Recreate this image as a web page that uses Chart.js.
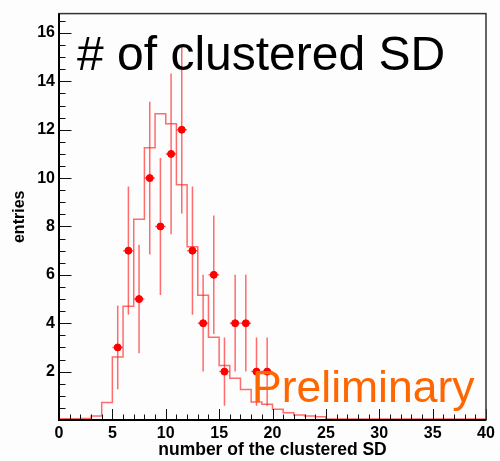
<!DOCTYPE html>
<html>
<head>
<meta charset="utf-8">
<script src="https://cdn.jsdelivr.net/npm/chart.js@4.4.0/dist/chart.umd.min.js"></script>
<style>
  body { margin: 0; background: #fdfdfd; }
  canvas { display: block; }
</style>
</head>
<body>
<canvas id="grafica" width="500" height="461"></canvas>
<script>
// histograma (simulacion), un valor por bin de ancho 1, desde 0 hasta 40
const histValues = [0.05, 0.05, 0.06, 0.17, 0.72, 2.6, 4.7, 8.3, 11.25, 12.66,
                    12.25, 9.72, 7.16, 5.16, 3.42, 2.25, 1.73, 1.26, 0.74, 0.65,
                    0.44, 0.3, 0.21, 0.17, 0.13, 0.04, 0.04, 0.04, 0.04, 0.04,
                    0.04, 0.04, 0.04, 0.04, 0.04, 0.04, 0.04, 0.04, 0.04, 0.04];
// datos con barras de error
const dataX = [5.5, 6.5, 7.5, 8.5, 9.5, 10.5, 11.5, 12.5, 13.5, 14.5, 15.5, 16.5, 17.5, 18.5, 19.5];
const dataY = [3, 7, 5, 10, 8, 11, 12, 7, 4, 6, 2, 4, 4, 2, 2];
const dataErr = [1.73, 2.65, 2.24, 3.16, 2.83, 3.32, 3.46, 2.65, 2.0, 2.45, 1.41, 2.0, 2.0, 1.41, 1.41];
const xTicks = [0, 5, 10, 15, 20, 25, 30, 35, 40];
const yTicks = [2, 4, 6, 8, 10, 12, 14, 16];

const histPoints = histValues.map((v, i) => ({ x: i, y: v }));
histPoints.push({ x: histValues.length, y: histValues[histValues.length - 1] });

const fontBold = size => ({ family: "'Liberation Sans', Arial, sans-serif", size: size, weight: 'bold' });
const barColor = 'rgba(255, 30, 30, 0.65)';

const marcas = {
    id: 'marcas',
    beforeDatasetsDraw(chart) {
        const ctx = chart.ctx;
        const x = chart.scales.x, y = chart.scales.y;
        ctx.save();
        // barras de error
        ctx.strokeStyle = barColor;
        ctx.lineWidth = 1.5;
        dataX.forEach((vx, i) => {
            const px = x.getPixelForValue(vx);
            const py = y.getPixelForValue(dataY[i]);
            ctx.beginPath();
            ctx.moveTo(px, y.getPixelForValue(dataY[i] - dataErr[i]));
            ctx.lineTo(px, y.getPixelForValue(dataY[i] + dataErr[i]));
            ctx.moveTo(x.getPixelForValue(vx - 0.5), py);
            ctx.lineTo(x.getPixelForValue(vx + 0.5), py);
            ctx.stroke();
        });
        ctx.restore();
    },
    afterDatasetsDraw(chart) {
        const ctx = chart.ctx;
        ctx.save();
        ctx.textBaseline = 'alphabetic';
        ctx.textAlign = 'left';
        ctx.fillStyle = '#000';
        ctx.font = "48px 'Liberation Sans', Arial, sans-serif";
        ctx.fillText('# of clustered SD', 77, 70);
        ctx.fillStyle = '#ff6600';
        ctx.font = "44.5px 'Liberation Sans', Arial, sans-serif";
        ctx.fillText('Preliminary', 252, 402);
        ctx.restore();
    },
    afterDraw(chart) {
        const ctx = chart.ctx;
        const a = chart.chartArea;
        const x = chart.scales.x, y = chart.scales.y;
        ctx.save();
        ctx.strokeStyle = '#111';
        ctx.lineWidth = 1;
        ctx.beginPath();
        for (let v = 0; v <= 40; v += 1) {
            const px = Math.round(x.getPixelForValue(v)) + 0.5;
            const len = v % 5 === 0 ? 11 : 5.5;
            ctx.moveTo(px, a.bottom);
            ctx.lineTo(px, a.bottom - len);
        }
        for (let v = 0; v <= 16.8; v += 0.5) {
            const py = Math.round(y.getPixelForValue(v)) + 0.5;
            const len = v % 2 === 0 ? 12.5 : 6.5;
            ctx.moveTo(a.left, py);
            ctx.lineTo(a.left + len, py);
        }
        ctx.stroke();
        ctx.strokeStyle = '#333';
        ctx.lineWidth = 1.5;
        ctx.strokeRect(a.left, a.top, a.right - a.left, a.bottom - a.top);
        ctx.strokeStyle = '#000';
        ctx.lineWidth = 2;
        ctx.beginPath();
        ctx.moveTo(a.left, a.top);
        ctx.lineTo(a.left, a.bottom);
        ctx.lineTo(a.right, a.bottom);
        ctx.stroke();
        ctx.restore();
    }
};

const ctx = document.getElementById('grafica').getContext('2d');
new Chart(ctx, {
    type: 'scatter',
    data: {
        datasets: [{
            label: 'datos',
            data: dataX.map((vx, i) => ({ x: vx, y: dataY[i] })),
            backgroundColor: '#ff0000',
            borderColor: '#ff0000',
            pointRadius: 3.5,
            showLine: false
        }, {
            type: 'line',
            label: 'simulacion',
            data: histPoints,
            stepped: true,
            borderColor: barColor,
            borderWidth: 1.5,
            pointRadius: 0,
            fill: false
        }]
    },
    options: {
        responsive: false,
        animation: false,
        layout: { padding: { top: 11, right: 14, left: 0, bottom: 0 } },
        plugins: {
            legend: { display: false },
            title: { display: false },
            tooltip: { enabled: false }
        },
        scales: {
            x: {
                type: 'linear',
                min: 0,
                max: 40,
                grid: { display: false, drawTicks: false, tickLength: 0 },
                border: { display: false },
                afterBuildTicks: s => { s.ticks = xTicks.map(v => ({ value: v })); },
                afterFit: s => { s.height = 41; },
                ticks: { font: fontBold(16), color: '#000', padding: 4, maxRotation: 0 },
                title: { display: true, text: 'number of the clustered SD', font: fontBold(17.5), color: '#000', padding: 0 }
            },
            y: {
                min: 0,
                max: 16.8,
                grid: { display: false, drawTicks: false, tickLength: 0 },
                border: { display: false },
                afterBuildTicks: s => { s.ticks = yTicks.map(v => ({ value: v })); },
                afterFit: s => { s.width = 59; },
                ticks: { font: fontBold(16), color: '#000', padding: 4 },
                title: { display: true, text: 'entries', font: fontBold(16), color: '#000', padding: { top: 10, bottom: 10 } }
            }
        }
    },
    plugins: [marcas]
});
</script>
</body>
</html>
